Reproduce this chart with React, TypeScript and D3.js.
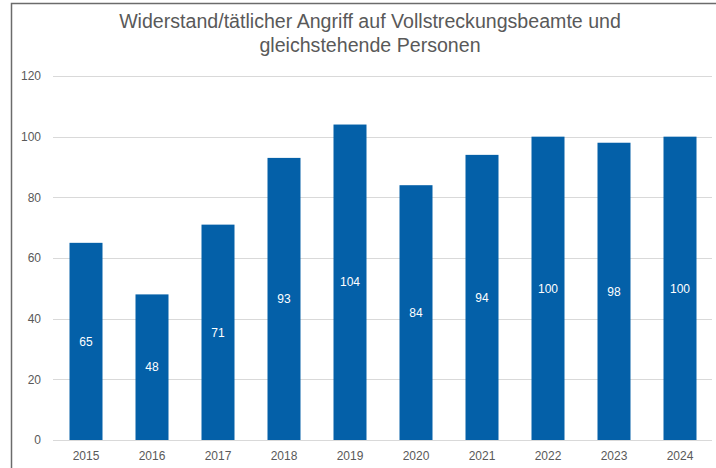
import React, { useEffect, useRef } from 'react';
import * as d3 from 'd3';

const years = ['2015', '2016', '2017', '2018', '2019', '2020', '2021', '2022', '2023', '2024'];
const cases = [65, 48, 71, 93, 104, 84, 94, 100, 98, 100];
const yTicks = [0, 20, 40, 60, 80, 100, 120];
const titleLines = [
  'Widerstand/tätlicher Angriff auf Vollstreckungsbeamte und',
  'gleichstehende Personen',
];

const W = 716;
const H = 468;

export default function App() {
  const svgRef = useRef<SVGSVGElement>(null);

  useEffect(() => {
    if (!svgRef.current) return;
    const svg = d3.select(svgRef.current);
    svg.selectAll('*').remove();

    const font = '"Liberation Sans", Arial, sans-serif';
    const margin = { top: 76, right: 3, bottom: 28, left: 53 };

    svg.append('rect').attr('width', W).attr('height', H).attr('fill', '#fff');

    // chart frame (right and bottom edges fall outside the picture)
    svg.append('path')
      .attr('d', `M11.5,${H} V3.5 H${W}`)
      .attr('fill', 'none')
      .attr('stroke', '#6b6b6b')
      .attr('stroke-width', 1.5);

    const x = d3.scaleBand()
      .domain(years)
      .range([margin.left, W - margin.right])
      .paddingInner(0.5)
      .paddingOuter(0.25);

    const y = d3.scaleLinear()
      .domain([0, 120])
      .range([H - margin.bottom, margin.top]);

    // gridlines
    svg.append('g')
      .selectAll('line')
      .data(yTicks)
      .enter()
      .append('line')
      .attr('x1', margin.left)
      .attr('x2', W - 4)
      .attr('y1', d => Math.round(y(d)) + 0.5)
      .attr('y2', d => Math.round(y(d)) + 0.5)
      .attr('stroke', '#d9d9d9')
      .attr('stroke-width', 1);

    // y tick labels
    svg.append('g')
      .selectAll('text')
      .data(yTicks)
      .enter()
      .append('text')
      .attr('x', 41)
      .attr('y', d => y(d))
      .attr('dy', '0.35em')
      .attr('text-anchor', 'end')
      .attr('font-family', font)
      .attr('font-size', 12)
      .attr('fill', '#595959')
      .text(d => d);

    // bars
    svg.append('g')
      .selectAll('rect')
      .data(cases)
      .enter()
      .append('rect')
      .attr('x', (_d, i) => x(years[i]) || 0)
      .attr('width', x.bandwidth())
      .attr('y', d => y(d))
      .attr('height', d => y(0) - y(d))
      .attr('fill', '#0460a8');

    // value labels
    svg.append('g')
      .selectAll('text')
      .data(cases)
      .enter()
      .append('text')
      .attr('x', (_d, i) => (x(years[i]) || 0) + x.bandwidth() / 2)
      .attr('y', d => (y(d) + y(0)) / 2)
      .attr('dy', '0.35em')
      .attr('text-anchor', 'middle')
      .attr('font-family', font)
      .attr('font-size', 12)
      .attr('fill', '#ffffff')
      .text(d => d);

    // x labels
    svg.append('g')
      .selectAll('text')
      .data(years)
      .enter()
      .append('text')
      .attr('x', d => (x(d) || 0) + x.bandwidth() / 2)
      .attr('y', y(0) + 20)
      .attr('text-anchor', 'middle')
      .attr('font-family', font)
      .attr('font-size', 12)
      .attr('fill', '#595959')
      .text(d => d);

    // title
    svg.append('g')
      .selectAll('text')
      .data(titleLines)
      .enter()
      .append('text')
      .attr('x', 370)
      .attr('y', (_d, i) => 28 + i * 24)
      .attr('text-anchor', 'middle')
      .attr('font-family', font)
      .attr('font-size', 19.6)
      .attr('fill', '#595959')
      .text(d => d);
  }, []);

  return (
    <svg
      ref={svgRef}
      width={W}
      height={H}
      style={{ position: 'absolute', left: 0, top: 0, display: 'block' }}
    />
  );
}
